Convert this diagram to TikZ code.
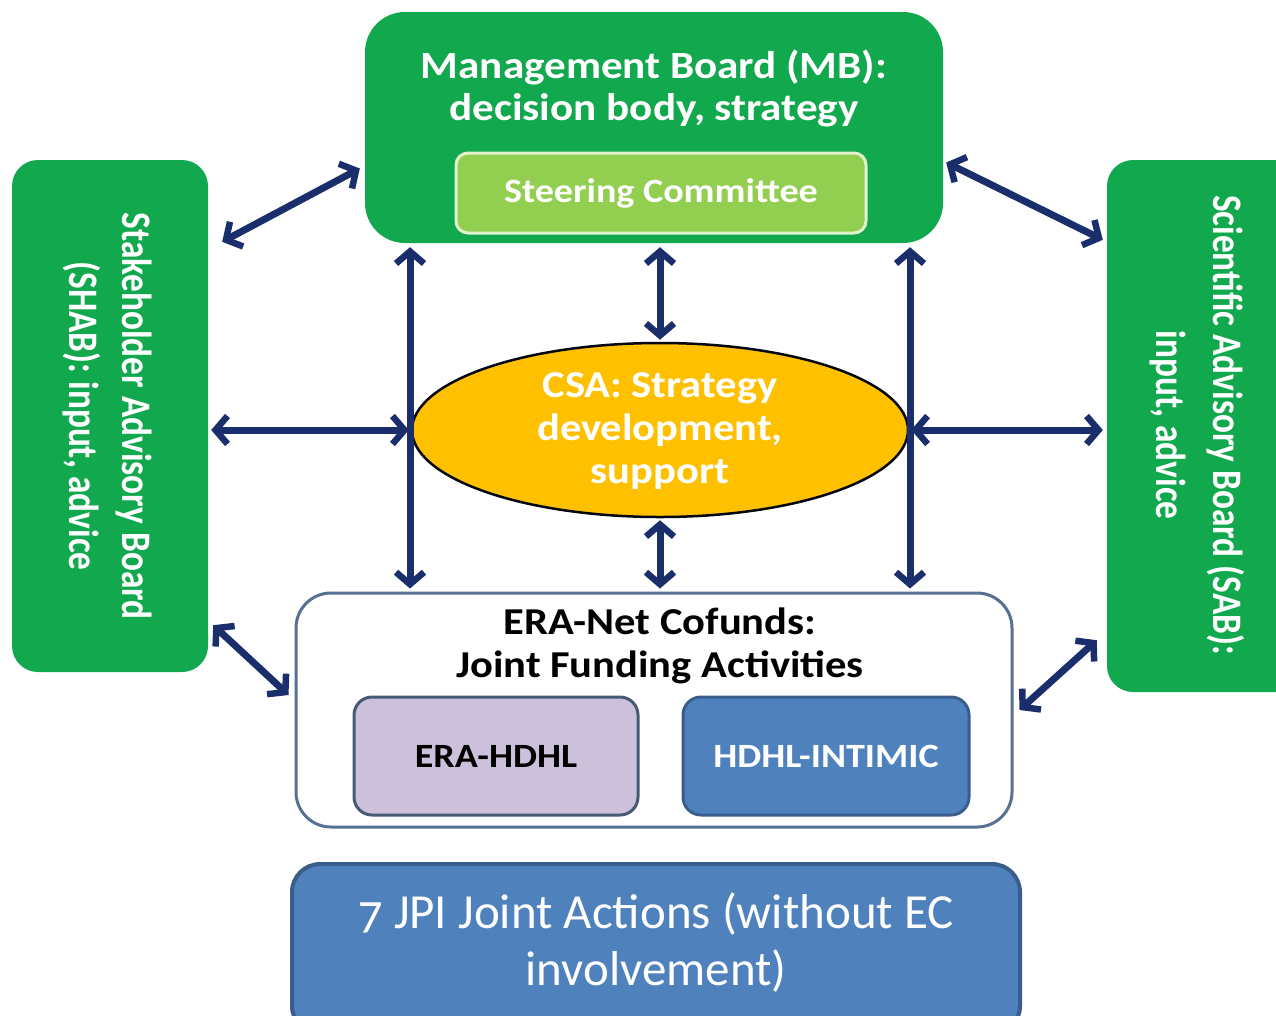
\documentclass[tikz,border=0pt]{standalone}
\usepackage{fontspec}
\setmainfont{Carlito}
\newfontfamily\condfont[FakeStretch=0.84]{Carlito}
\newfontfamily\widefont[FakeStretch=1.12]{Carlito}
\newfontfamily\osffont[Numbers=OldStyle]{Carlito}
\usetikzlibrary{arrows.meta,shapes.geometric,calc}
\definecolor{mbgreen}{RGB}{18,168,78}
\definecolor{scgreen}{RGB}{146,206,80}
\definecolor{scborder}{RGB}{225,242,205}
\definecolor{csaorange}{RGB}{255,192,0}
\definecolor{navy}{RGB}{26,46,108}
\definecolor{eraborder}{RGB}{88,112,148}
\definecolor{lavender}{RGB}{204,192,218}
\definecolor{boxblue}{RGB}{79,129,189}
\definecolor{blueborder}{RGB}{58,94,140}
\begin{document}
\begin{tikzpicture}[x=1pt,y=-1pt,
  greenbox/.style={draw=none,fill=mbgreen,rounded corners=26pt},
  arr/.style={draw=navy,line width=7pt,{Straight Barb[length=12pt,width=28pt,line width=6.5pt]}-{Straight Barb[length=12pt,width=28pt,line width=6.5pt]}},
  wtext/.style={text=white,align=center,inner sep=0pt},
  btext/.style={text=black,align=center,inner sep=0pt}]
\useasboundingbox (0,0) rectangle (1276,1015);
\fill[white] (0,0) rectangle (1276,1015);
% boxes
\node[greenbox,rounded corners=40pt,minimum width=578pt,minimum height=231pt] (mb) at (654,127.5) {};
\node[wtext,font=\widefont\bfseries\fontsize{38.5}{42}\selectfont] (mbtext) at (654,88) {Management Board (MB):\\decision body, strategy};
\node[draw=scborder,line width=3pt,fill=scgreen,rounded corners=12pt,minimum width=410pt,minimum height=80pt,text=white,font=\widefont\bfseries\fontsize{34}{36}\selectfont] (sc) at (661,193) {Steering Committee};
\node[greenbox,minimum width=196pt,minimum height=512pt] (shab) at (110,416) {};
\node[wtext,rotate=-90,font=\condfont\bfseries\fontsize{42}{53}\selectfont] (shabtext) at (107,416) {Stakeholder Advisory Board\\(SHAB): input, advice};
\node[greenbox,minimum width=210pt,minimum height=532pt] (sab) at (1212,426) {};
\node[wtext,rotate=-90,font=\condfont\bfseries\fontsize{42}{57}\selectfont] (sabtext) at (1197,425) {Scientific Advisory Board (SAB):\\input, advice};
\node[ellipse,draw=black!85!navy,line width=2.5pt,fill=csaorange,minimum width=496pt,minimum height=174pt,inner sep=0pt] (ell) at (660,430) {};
\node[wtext,font=\widefont\bfseries\fontsize{38}{43}\selectfont] (csatext) at (660,431) {CSA: Strategy\\development,\\support};
\node[draw=eraborder,line width=3pt,fill=white,rounded corners=35pt,minimum width=716pt,minimum height=234pt] (era) at (654,710) {};
\node[btext,font=\widefont\bfseries\fontsize{38}{43}\selectfont] (eratext) at (660,646) {ERA-Net Cofunds:\\Joint Funding Activities};
\node[draw=eraborder!80!black,line width=3pt,fill=lavender,rounded corners=18pt,minimum width=284pt,minimum height=118pt,text=black,font=\widefont\bfseries\fontsize{34}{36}\selectfont] (hdhl) at (496,756) {ERA-HDHL};
\node[draw=blueborder,line width=3pt,fill=boxblue,rounded corners=18pt,minimum width=286pt,minimum height=118pt,text=white,font=\widefont\bfseries\fontsize{34}{36}\selectfont] (intimic) at (826,756) {HDHL-INTIMIC};
\node[draw=blueborder,line width=4pt,fill=boxblue,rounded corners=28pt,minimum width=728pt,minimum height=170pt] (jpi) at (656,949) {};
\node[text=white,align=center,inner sep=0pt,font=\osffont\fontsize{49}{57}\selectfont] (jpitext) at (656,942) {7 JPI Joint Actions (without EC\\involvement)};
% connectors
\coordinate (xl) at (410,0);
\coordinate (xr) at (910,0);
\draw[arr] ([shift={(-5,41)}]mb.west) -- ([shift={(14,82)}]shab.north east);
\draw[arr] ([shift={(3,35)}]mb.east) -- ([shift={(-4,80)}]sab.north west);
\draw[arr] ([yshift=-4pt]mb.south -| xl) -- ([yshift=3pt]era.north -| xl);
\draw[arr] ([yshift=-4pt]mb.south -| xr) -- ([yshift=3pt]era.north -| xr);
\draw[arr] ([yshift=-4pt]mb.south -| ell.north) -- ([yshift=2pt]ell.north);
\draw[arr] ([yshift=-2pt]ell.south) -- ([yshift=3pt]era.north -| ell.south);
\draw[arr] ([xshift=3pt]shab.east |- ell.west) -- ([xshift=-2pt]ell.west);
\draw[arr] ([xshift=2pt]ell.east) -- ([xshift=-4pt]sab.west |- ell.east);
\draw[arr] ([shift={(5,-47)}]shab.south east) -- ([shift={(-6,-15)}]era.west);
\draw[arr] ([shift={(-10,-52)}]sab.south west) -- ([shift={(6,0)}]era.east);
\end{tikzpicture}
\end{document}
